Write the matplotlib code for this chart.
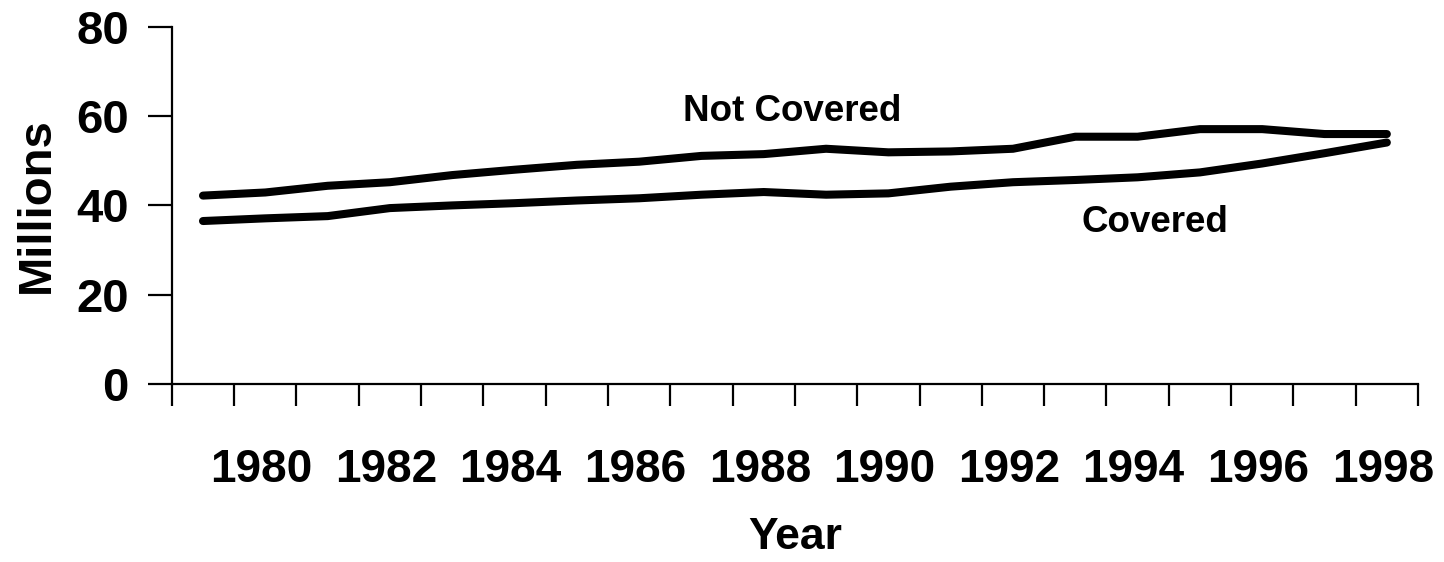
import matplotlib
matplotlib.use("Agg")
import matplotlib.pyplot as plt
import matplotlib.transforms as mtransforms
import numpy as np

plt.rcParams['font.family'] = ['Liberation Sans', 'DejaVu Sans']
plt.rcParams['font.weight'] = 'bold'

# Data (millions)
years = list(range(1979, 1999))
not_covered = [42.2, 42.9, 44.4, 45.2, 46.8, 48.0, 49.1, 49.8, 51.1, 51.5,
               52.7, 51.9, 52.1, 52.7, 55.4, 55.4, 57.1, 57.1, 56.0, 56.0]
covered = [36.5, 37.1, 37.6, 39.4, 40.0, 40.5, 41.1, 41.6, 42.4, 43.0,
           42.4, 42.7, 44.2, 45.2, 45.7, 46.3, 47.4, 49.4, 51.7, 54.1]
label_years = [y for y in years if y % 2 == 0]

fig = plt.figure(figsize=(14.44, 5.62), dpi=100)
ax = fig.add_axes([0.119, 0.317, 0.863, 0.635])

x = np.arange(len(years)) + 0.5
ax.plot(x, not_covered, color='black', lw=5.8, solid_capstyle='round', solid_joinstyle='round')
ax.plot(x, covered, color='black', lw=5.8, solid_capstyle='round', solid_joinstyle='round')

ax.set_xlim(0, len(years))
ax.set_ylim(0, 80)

for s in ['top', 'right']:
    ax.spines[s].set_visible(False)
for s in ['left', 'bottom']:
    ax.spines[s].set_linewidth(1.6)

# y axis
ax.set_yticks([0, 20, 40, 60, 80])
ax.tick_params(axis='y', direction='out', length=17, width=1.6, pad=14, labelsize=34)

# x axis: ticks at category boundaries, labels at centres of even years
ax.set_xticks(np.arange(len(years) + 1))
ax.set_xticklabels([])
ax.tick_params(axis='x', which='major', direction='out', length=16, width=1.6)
idx = [years.index(y) for y in label_years]
ax.set_xticks(np.array(idx) + 0.5, minor=True)
ax.set_xticklabels([str(y) for y in label_years], minor=True)
ax.tick_params(axis='x', which='minor', length=0, pad=46, labelsize=33)
shift = mtransforms.ScaledTranslation(-4 / 100, 0, fig.dpi_scale_trans)
for lab in ax.get_xticklabels(minor=True):
    lab.set_transform(lab.get_transform() + shift)

ax.set_ylabel('Millions', fontsize=34, fontweight='bold', labelpad=12)
ax.set_xlabel('Year', fontsize=32, fontweight='bold', labelpad=18)

ax.text(9.95, 61.0, 'Not Covered', fontsize=26.5, fontweight='bold', ha='center', va='center')
ax.text(15.78, 36.1, 'Covered', fontsize=26.5, fontweight='bold', ha='center', va='center')

fig.savefig('out.png', dpi=100)
